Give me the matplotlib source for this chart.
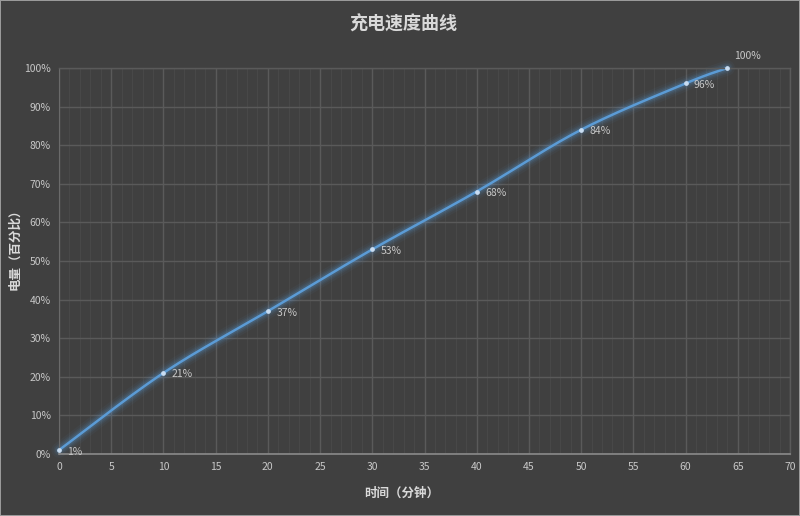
import numpy as np
import matplotlib
matplotlib.use("Agg")
import matplotlib.pyplot as plt
from matplotlib.ticker import MultipleLocator, FuncFormatter

plt.rcParams['font.family'] = ['Noto Sans CJK SC', 'DejaVu Sans']

# ---- data ----
minutes = [0, 10, 20, 30, 40, 50, 60, 64]
charge = [1, 21, 37, 53, 68, 84, 96, 100]
labels = ["1%", "21%", "37%", "53%", "68%", "84%", "96%", "100%"]
title = "充电速度曲线"
xlabel = "时间（分钟）"
ylabel = "电量（百分比）"

BG = "#404040"
TXT = "#d9d9d9"
TICK = "#c8c8c8"
LINE = "#5b9bd5"


def smooth(xs, ys, n=40):
    """Excel-style smoothed line (Catmull-Rom Bezier) through the data points."""
    x = np.asarray(xs, float)
    y = np.asarray(ys, float)
    px = np.concatenate([[x[0]], x, [x[-1]]])
    py = np.concatenate([[y[0]], y, [y[-1]]])
    outx, outy = [], []
    t = np.linspace(0, 1, n)
    for i in range(1, len(px) - 2):
        p0 = np.array([px[i - 1], py[i - 1]])
        p1 = np.array([px[i], py[i]])
        p2 = np.array([px[i + 1], py[i + 1]])
        p3 = np.array([px[i + 2], py[i + 2]])
        c1 = p1 + (p2 - p0) / 6
        c2 = p2 - (p3 - p1) / 6
        b = ((1 - t) ** 3)[:, None] * p1 + (3 * (1 - t) ** 2 * t)[:, None] * c1 \
            + (3 * (1 - t) * t ** 2)[:, None] * c2 + (t ** 3)[:, None] * p2
        outx.extend(b[:, 0])
        outy.extend(b[:, 1])
    return np.array(outx), np.array(outy)


fig = plt.figure(figsize=(8.0, 5.16), dpi=100, facecolor=BG)
fig.patch.set_edgecolor("#9a9a9a")
fig.patch.set_linewidth(1.2)
ax = fig.add_axes([59 / 800, 62 / 516, 731 / 800, 386 / 516])
ax.set_facecolor(BG)

ax.set_xlim(0, 70)
ax.set_ylim(0, 100)
ax.xaxis.set_major_locator(MultipleLocator(5))
ax.xaxis.set_minor_locator(MultipleLocator(1))
ax.yaxis.set_major_locator(MultipleLocator(10))
ax.yaxis.set_major_formatter(FuncFormatter(lambda v, p: f"{int(round(v))}%"))

ax.grid(which="major", color="#5a5a5a", linewidth=1.0)
ax.grid(which="minor", axis="x", color="#484848", linewidth=0.8)
ax.set_axisbelow(True)

for s in ["top", "right"]:
    ax.spines[s].set_color("#5a5a5a")
    ax.spines[s].set_linewidth(1.0)
ax.spines["left"].set_color("#6a6a6a")
ax.spines["bottom"].set_color("#8a8a8a")
ax.spines["bottom"].set_linewidth(1.2)

ax.tick_params(which="both", length=0, colors=TICK, labelsize=7.5)
ax.tick_params(axis="x", pad=6)
ax.tick_params(axis="y", pad=6)

sx, sy = smooth(minutes, charge)
# glow
for lw, a in [(11, 0.05), (8, 0.07), (6, 0.10), (4, 0.16)]:
    ax.plot(sx, sy, color=LINE, lw=lw, alpha=a, solid_capstyle="round", clip_on=False)
ax.plot(sx, sy, color=LINE, lw=1.8, solid_capstyle="round", clip_on=False)
ax.plot(minutes, charge, linestyle="none", marker="o", ms=2.4, mfc="#c9ddf2",
        mec="#c9ddf2", clip_on=False, zorder=5)

for xv, yv, lab in zip(minutes, charge, labels):
    if lab == "100%":
        ax.annotate(lab, (xv, yv), xytext=(5, 5), textcoords="offset points",
                    color=TICK, fontsize=7.5, ha="left", va="bottom")
    else:
        ax.annotate(lab, (xv, yv), xytext=(6, -1), textcoords="offset points",
                    color=TICK, fontsize=7.5, ha="left", va="center")

fig.text(403 / 800, 1 - 24 / 516, title, ha="center", va="center", color=TXT,
         fontsize=13, fontweight="bold")
fig.text(402 / 800, 1 - 493 / 516, xlabel, ha="center", va="center", color=TXT,
         fontsize=9, fontweight="bold")
fig.text(15 / 800, 1 - 246 / 516, ylabel, ha="center", va="center", color=TXT,
         fontsize=9, fontweight="bold", rotation=90)

fig.savefig("out.png", dpi=100, facecolor=BG, edgecolor=fig.patch.get_edgecolor())
